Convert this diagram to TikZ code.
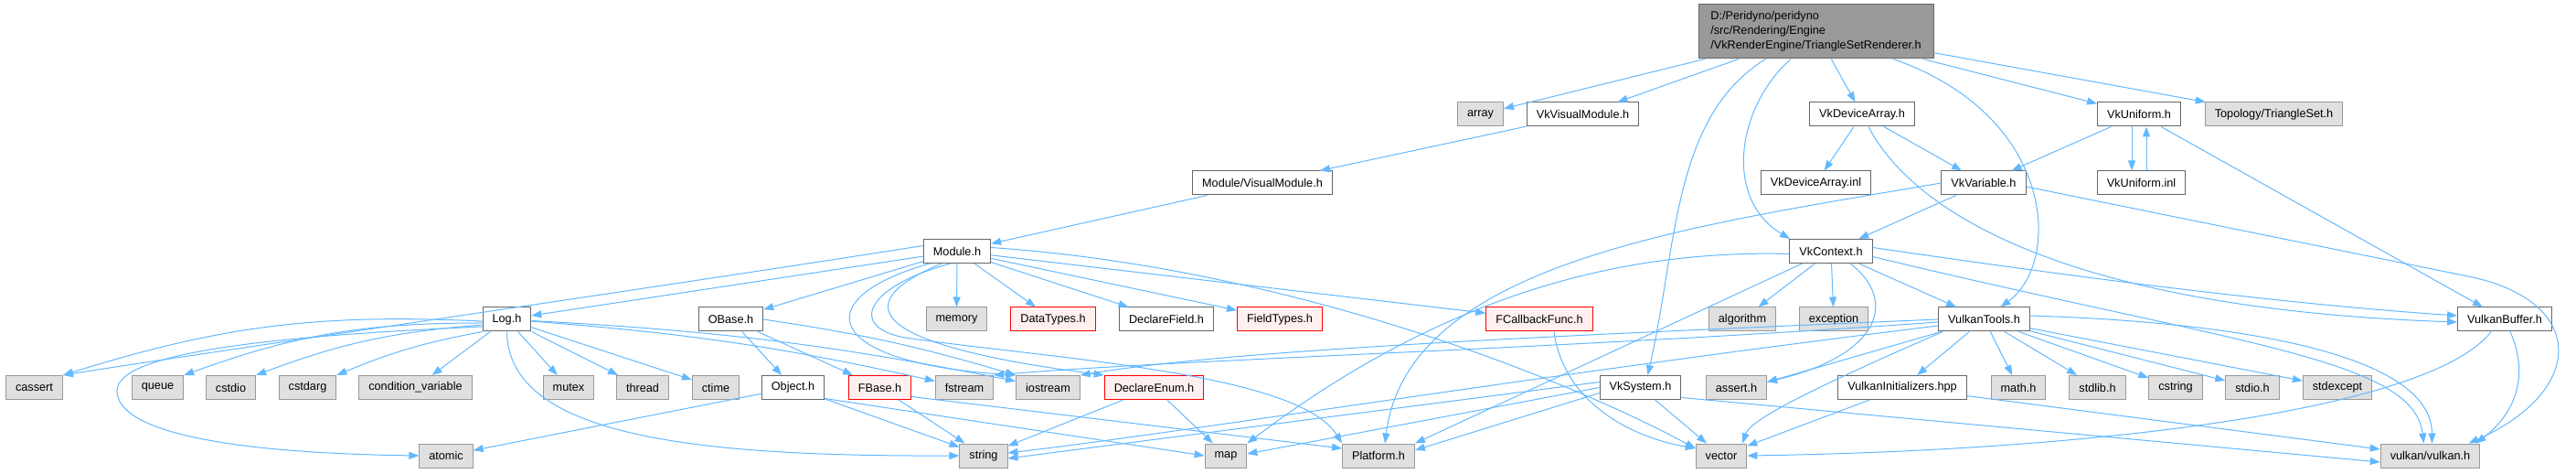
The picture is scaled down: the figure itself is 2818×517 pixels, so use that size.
\documentclass[tikz,border=0pt]{standalone}
\usepackage{fontspec}
\setmainfont{Liberation Sans}
\usetikzlibrary{arrows.meta}
\usepackage{xcolor}
\definecolor{EdgeBlue}{HTML}{63B8FF}
\definecolor{ExtFill}{HTML}{E0E0E0}
\definecolor{ExtLine}{HTML}{999999}
\definecolor{HdrLine}{HTML}{666666}
\definecolor{WarnFill}{HTML}{FFF0F0}
\definecolor{WarnLine}{HTML}{FF0000}
\definecolor{RootFill}{HTML}{999999}

\begin{document}
\begin{tikzpicture}[x=1pt, y=1pt,
    file/.style={rectangle, line width=1pt, minimum height=26pt, inner xsep=10.5pt, inner ysep=0pt, font=\fontsize{12.7}{15}\selectfont},
    hdr/.style={file, draw=HdrLine, fill=white},
    ext/.style={file, draw=ExtLine, fill=ExtFill},
    warn/.style={file, draw=WarnLine, fill=WarnFill},
    mainfile/.style={file, draw=HdrLine, fill=RootFill, align=left, minimum width=257pt, minimum height=59pt, inner xsep=12pt, font=\fontsize{12.7}{16}\selectfont},
    dep/.style={draw=EdgeBlue, line width=1pt, -{Triangle[length=11pt,width=8pt]}}
  ]
\useasboundingbox (0,0) rectangle (2818,517);

% the header itself
\node[mainfile] (root) at (1986.5,482.5) {D:/Peridyno/peridyno\\/src/Rendering/Engine\\/VkRenderEngine/TriangleSetRenderer.h};
% first level
\node[ext] (arr) at (1619.5,392) {array};
\node[hdr] (vvm) at (1731.5,392) {VkVisualModule.h};
\node[hdr] (vda) at (2037,392) {VkDeviceArray.h};
\node[hdr] (vun) at (2340,392) {VkUniform.h};
\node[ext] (topo) at (2487.5,392) {Topology/TriangleSet.h};
% second level
\node[hdr] (mvm) at (1381,317) {Module/VisualModule.h};
\node[hdr] (vdainl) at (1986.5,317) {VkDeviceArray.inl};
\node[hdr] (vvar) at (2170,317) {VkVariable.h};
\node[hdr] (vuninl) at (2342.5,317) {VkUniform.inl};
% third level
\node[hdr] (mod) at (1047,242.5) {Module.h};
\node[hdr] (ctx) at (2003,242.5) {VkContext.h};
% fourth level
\node[hdr] (logh) at (554.5,168) {Log.h};
\node[hdr] (obase) at (799.5,168) {OBase.h};
\node[ext] (mem) at (1046.5,168) {memory};
\node[warn] (dtypes) at (1152,168) {DataTypes.h};
\node[hdr] (dfield) at (1276,168) {DeclareField.h};
\node[warn] (ftypes) at (1400,168) {FieldTypes.h};
\node[warn] (fcb) at (1684,168) {FCallbackFunc.h};
\node[ext] (algo) at (1906,168) {algorithm};
\node[ext] (excp) at (2006,168) {exception};
\node[hdr] (vtools) at (2170.5,168) {VulkanTools.h};
\node[hdr] (vbuf) at (2740,168) {VulkanBuffer.h};
% fifth level
\node[ext] (cass) at (37.5,93.5) {cassert};
\node[ext] (que) at (172.5,93.5) {queue};
\node[ext] (cstdio) at (252.5,93.5) {cstdio};
\node[ext] (cstdarg) at (336.5,93.5) {cstdarg};
\node[ext] (cvar) at (454.5,93.5) {condition\_variable};
\node[ext] (mtx) at (622,93.5) {mutex};
\node[ext] (thr) at (703,93.5) {thread};
\node[ext] (ctm) at (783,93.5) {ctime};
\node[hdr] (obj) at (867.5,93.5) {Object.h};
\node[warn] (fbase) at (962.5,93.5) {FBase.h};
\node[ext] (fstr) at (1055,93.5) {fstream};
\node[ext] (iostr) at (1146.5,93.5) {iostream};
\node[warn] (denum) at (1262.5,93.5) {DeclareEnum.h};
\node[hdr] (sys) at (1794.5,93.5) {VkSystem.h};
\node[ext] (asrt) at (1899.5,93.5) {assert.h};
\node[hdr] (vinit) at (2081,93.5) {VulkanInitializers.hpp};
\node[ext] (mathh) at (2208,93.5) {math.h};
\node[ext] (stdlibh) at (2294.5,93.5) {stdlib.h};
\node[ext] (cstr) at (2380,93.5) {cstring};
\node[ext] (stdioh) at (2464,93.5) {stdio.h};
\node[ext] (stdexc) at (2557,93.5) {stdexcept};
% bottom level
\node[ext] (atom) at (488,19) {atomic};
\node[ext] (str) at (1076,19) {string};
\node[ext] (mapn) at (1341,19) {map};
\node[ext] (plat) at (1508,19) {Platform.h};
\node[ext] (vec) at (1883,19) {vector};
\node[ext] (vk) at (2658.5,19) {vulkan/vulkan.h};

% from the header
\draw[dep] (root) -- (arr);
\draw[dep] (root) -- (vvm);
\draw[dep] ([xshift=-55pt]root.south) .. controls (1830,390) and (1835,250) .. ([xshift=8pt]sys.north);
\draw[dep] ([xshift=-27.5pt]root.south) .. controls (1900,400) and (1885,300) .. ([xshift=-45pt]ctx.north);
\draw[dep] (root) -- (vda);
\draw[dep] ([xshift=84.5pt]root.south) .. controls (2250,390) and (2255,230) .. ([xshift=18pt]vtools.north);
\draw[dep] (root) -- (vun);
\draw[dep] (root) -- (topo);

% module chain
\draw[dep] (vvm) -- (mvm);
\draw[dep] (mvm) -- (mod);

% device array and uniform
\draw[dep] (vda) -- (vdainl);
\draw[dep] (vda) -- (vvar);
\draw[dep] ([xshift=7pt]vda.south) .. controls (2090,290) and (2250,180) .. ([yshift=-3pt]vbuf.west);
\draw[dep] (vun) -- (vvar);
\draw[dep] ([xshift=-8pt]vun.south) -- ([xshift=-10.5pt]vuninl.north);
\draw[dep] ([xshift=5.5pt]vuninl.north) -- ([xshift=8pt]vun.south);
\draw[dep] (vun) -- (vbuf);

% variable
\draw[dep] (vvar) -- (ctx);
\draw[dep] ([yshift=-4pt]vvar.east) -- (2700,215) .. controls (2830,189) and (2830,90) .. ([xshift=42pt]vk.north);
\draw[dep] (vvar.west) .. controls (1850,270) and (1540,230) .. ([xshift=7pt]plat.north);

% context
\draw[dep] (ctx) -- (algo);
\draw[dep] (ctx) -- (excp);
\draw[dep] (ctx) -- (vtools);
\draw[dep] ([yshift=4pt]ctx.east) .. controls (2300,210) and (2500,185) .. ([yshift=4pt]vbuf.west);
\draw[dep] ([yshift=-6pt]ctx.east) .. controls (2450,140) and (2640,125) .. ([xshift=-7pt]vk.north);
\draw[dep] ([yshift=-3pt]ctx.west) .. controls (1750,245) and (1560,180) .. (mapn.north east);
\draw[dep] ([xshift=14pt]ctx.south west) -- (plat.north east);
\draw[dep] ([xshift=21pt]ctx.south) .. controls (2075,190) and (2060,130) .. ([yshift=6pt]asrt.east);

% vulkan tools
\draw[dep] (vtools) -- (vinit);
\draw[dep] (vtools) -- (mathh);
\draw[dep] (vtools) -- (stdlibh);
\draw[dep] (vtools) -- (cstr);
\draw[dep] (vtools) -- (stdioh);
\draw[dep] (vtools) -- (stdexc);
\draw[dep] (vtools) -- ([yshift=6pt]asrt.east);
\draw[dep] ([xshift=5pt]vtools.south west) .. controls (2000,100) and (1915,60) .. ([xshift=-5pt]vec.north east);
\draw[dep] ([yshift=4pt]vtools.east) .. controls (2450,165) and (2660,130) .. ([xshift=2pt]vk.north);
\draw[dep] (vtools.west) .. controls (1700,150) and (1350,135) .. (iostr.north east);
\draw[dep] ([yshift=-3pt]vtools.west) .. controls (1700,135) and (1300,125) .. (fstr.north east);
\draw[dep] ([yshift=-7pt]vtools.west) .. controls (1700,110) and (1300,45) .. ([yshift=3pt]str.east);

% initializers, buffer, system
\draw[dep] (vinit) -- (vec);
\draw[dep] (vinit) -- (vk);
\draw[dep] ([xshift=-15pt]vbuf.south) .. controls (2660,70) and (2300,25) .. (vec.east);
\draw[dep] ([xshift=6pt]vbuf.south) .. controls (2770,100) and (2745,60) .. ([xshift=50pt]vk.north);
\draw[dep] (sys) -- (vec);
\draw[dep] ([yshift=-11pt]sys.east) -- ([yshift=-7pt]vk.west);
\draw[dep] ([yshift=6pt]sys.west) -- ([yshift=-3pt]str.east);
\draw[dep] (sys.west) -- ([yshift=2pt]mapn.east);
\draw[dep] ([yshift=-6pt]sys.west) -- ([yshift=6pt]plat.east);
\draw[dep] ([xshift=16pt]fcb.south) .. controls (1710,80) and (1780,40) .. ([yshift=8pt]vec.west);

% module
\draw[dep] (mod) -- (logh);
\draw[dep] ([yshift=6pt]mod.west) .. controls (700,200) and (180,125) .. (cass.north east);
\draw[dep] (mod) -- (obase);
\draw[dep] (mod) -- (mem);
\draw[dep] (mod) -- (dtypes);
\draw[dep] (mod) -- (dfield);
\draw[dep] (mod) -- (ftypes);
\draw[dep] (mod) -- (fcb);
\draw[dep] ([yshift=4pt]mod.east) .. controls (1400,225) and (1700,110) .. ([yshift=8pt]vec.west);
\draw[dep] ([xshift=-30pt]mod.south) .. controls (880,190) and (900,120) .. (iostr.north west);
\draw[dep] ([xshift=-17pt]mod.south) .. controls (925,185) and (950,140) .. (denum.north west);
\draw[dep] ([xshift=-7pt]mod.south) .. controls (950,205) and (925,160) .. (990,148) .. controls (1150,125) and (1420,110) .. (plat.north west);

% log
\draw[dep] ([yshift=-2pt]logh.west) to[bend right=10] (cass.north east);
\draw[dep] ([yshift=-4pt]logh.west) to[bend right=10] (que.north east);
\draw[dep] ([yshift=-6pt]logh.west) to[bend right=8] (cstdio.north east);
\draw[dep] (logh.south west) to[bend right=6] (cstdarg.north east);
\draw[dep] (logh) -- (cvar);
\draw[dep] (logh) -- (mtx);
\draw[dep] (logh) -- (thr);
\draw[dep] (logh) -- (ctm);
\draw[dep] ([yshift=-8pt]logh.west) .. controls (300,150) and (128,132) .. (128,90) .. controls (128,45) and (250,22) .. (atom.west);
\draw[dep] (logh.south) .. controls (556,40) and (760,18) .. (str.west);
\draw[dep] (logh) to[bend left=4] (fstr);
\draw[dep] (logh) to[bend left=4] (iostr);

% object base
\draw[dep] (obase) -- (obj);
\draw[dep] (obase) -- (fbase);
\draw[dep] (obase.east) to[bend left=4] (iostr.north west);
\draw[dep] (obj) -- (atom);
\draw[dep] (obj) -- (str);
\draw[dep] ([yshift=-12pt]obj.east) -- (mapn.west);
\draw[dep] (fbase) -- (str);
\draw[dep] ([yshift=-10pt]fbase.east) -- ([yshift=8pt]plat.west);
\draw[dep] (denum) -- (str);
\draw[dep] (denum) -- (mapn);
\end{tikzpicture}
\end{document}
